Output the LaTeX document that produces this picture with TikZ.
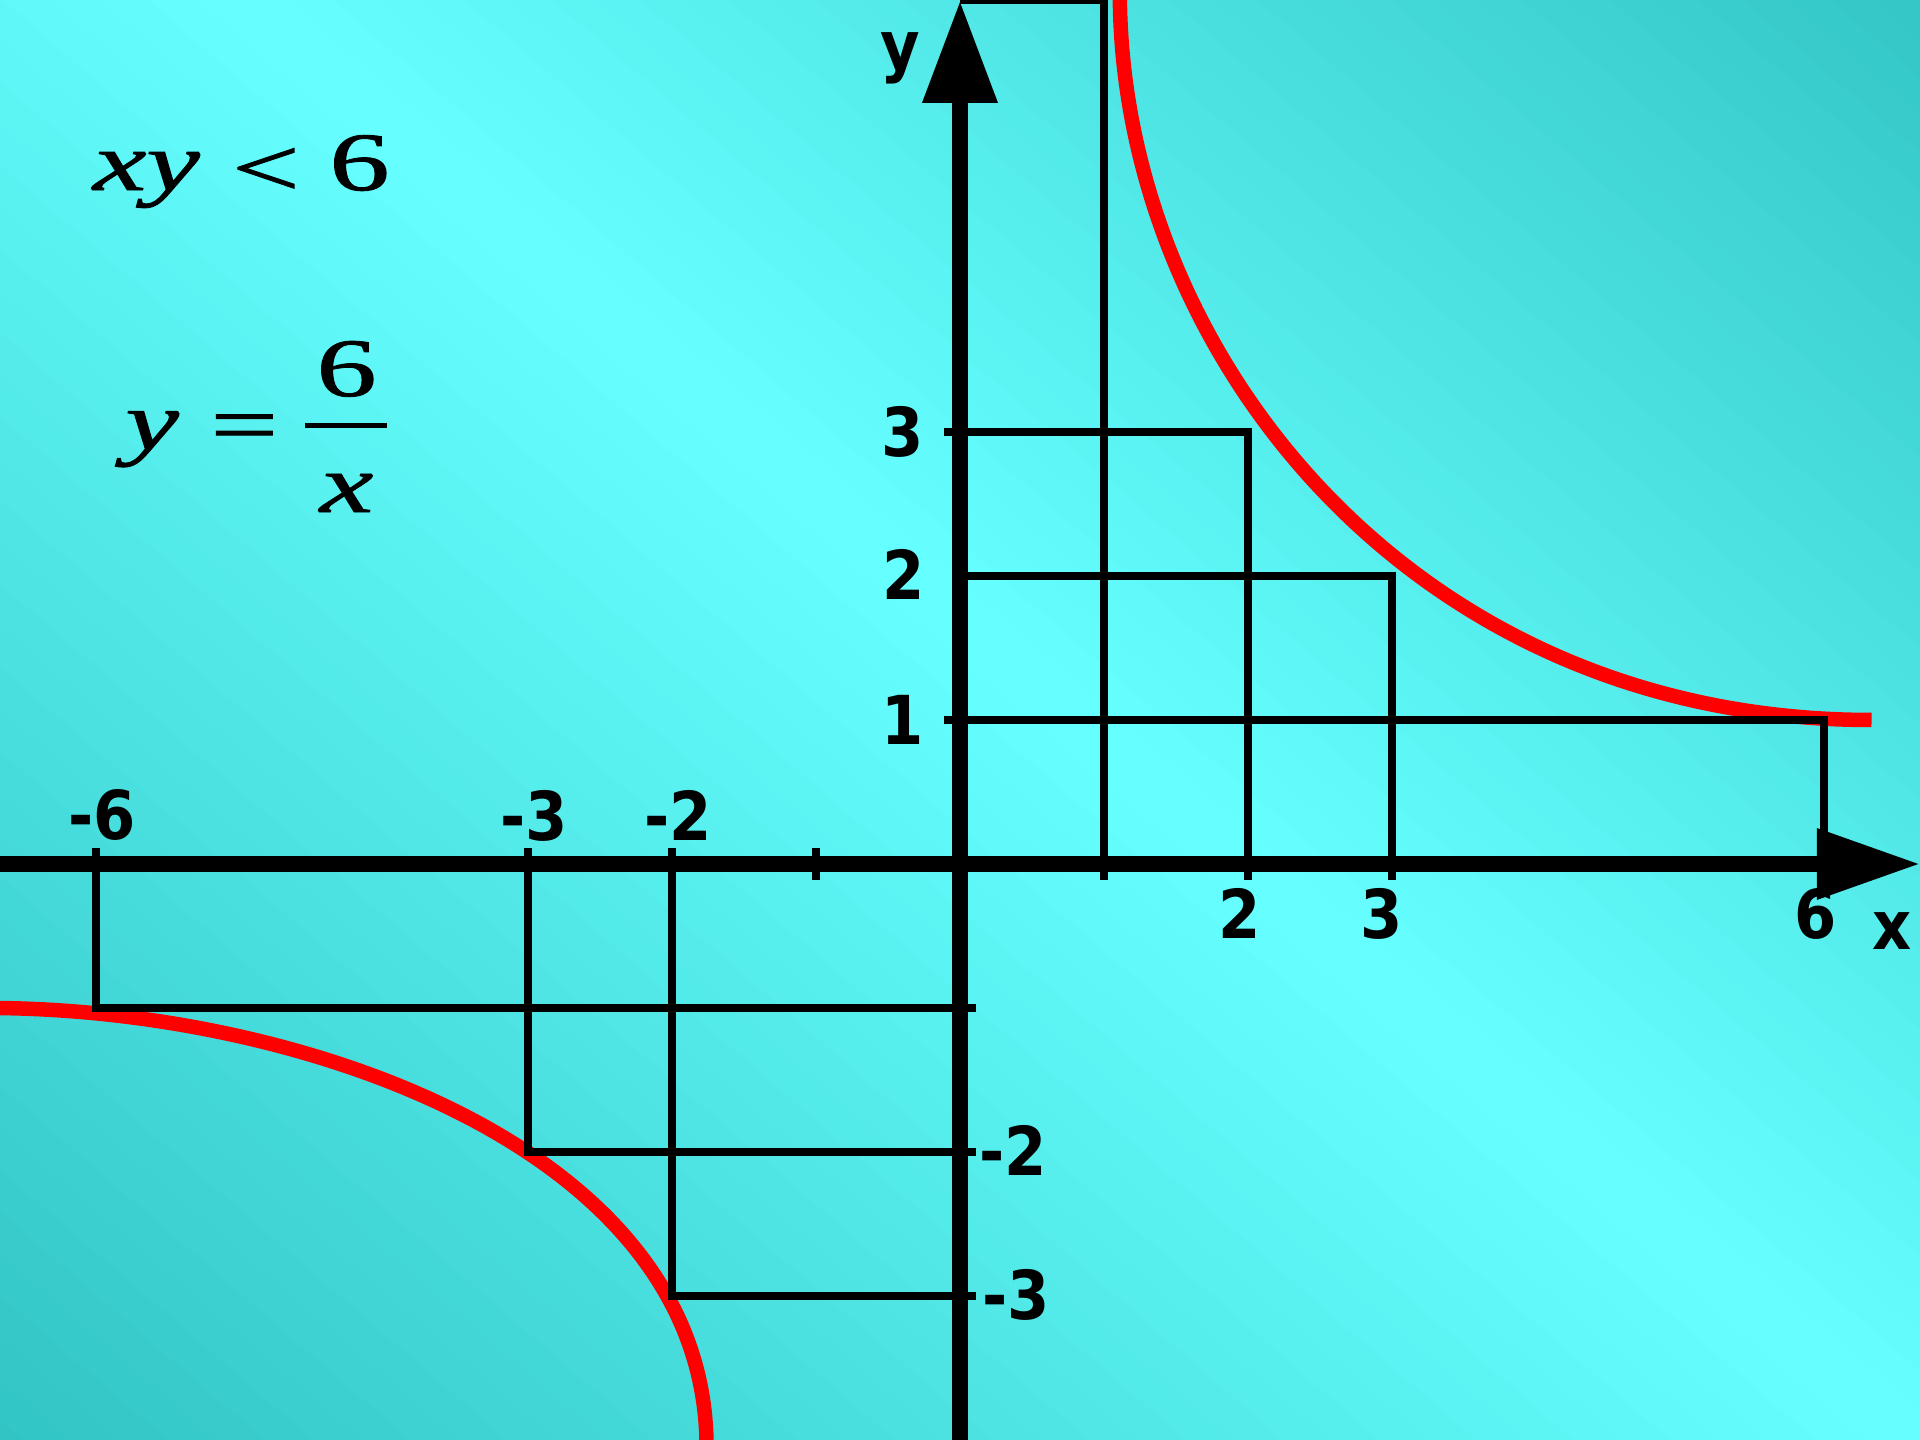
\documentclass[tikz,border=0pt]{standalone}
\usepackage{fontspec}
\newfontfamily\eqfont[FakeBold=1]{Liberation Serif}
\newfontfamily\labfont{DejaVu Sans}
\definecolor{bgbright}{RGB}{102,255,255}
\definecolor{bgdark}{RGB}{50,196,196}
\definecolor{curvered}{RGB}{255,0,0}
\newcommand\axl[1]{\scalebox{0.9}[1]{#1}}
\newcommand\eqs[1]{\scalebox{1.45}[1]{#1}}
\begin{document}
\begin{tikzpicture}[x=1.44cm,y=1.44cm,
  thinline/.style={line width=0.08cm, line join=miter},
  axisline/.style={line width=0.16cm},
  curve/.style={draw=curvered, line width=0.145cm},
  lab/.style={inner sep=0pt, font=\labfont\bfseries\fontsize{19.2}{23}\selectfont},
  eq/.style={inner sep=0pt, font=\eqfont\fontsize{23.6}{28}\selectfont}]
\useasboundingbox (-6.6667,-4) rectangle (6.6667,6);
\begin{scope}
\clip (-6.6667,-4) rectangle (6.6667,6);
% background gradient
\fill[bgbright] (-6.6667,-4) rectangle (6.6667,6);
\begin{scope}[shift={(-4.97,6)}, rotate=-40.8]
\foreach \i in {0,...,39}{
  \pgfmathsetmacro\pc{100*\i/39}
  \fill[bgdark!\pc!bgbright] (-25,{\i*0.2}) rectangle (25,{\i*0.2+0.21});
  \fill[bgdark!\pc!bgbright] (-25,{-\i*0.22}) rectangle (25,{-\i*0.22-0.23});
}
\end{scope}
% red curves
\draw[curve] (1.11,6.05) .. controls (1.11,3.6) and (3.09,1.0) .. (6.33,1.0);
\draw[curve] (-6.75,-1.0) .. controls (-4.61,-1.0) and (-1.76,-1.96) .. (-1.76,-4.05);
% thin lines
\draw[thinline] (1,-0.11) -- (1,6) -- (0,6);
\draw[thinline] (-0.11,3) -- (2,3) -- (2,-0.11);
\draw[thinline] (0,2) -- (3,2) -- (3,-0.11);
\draw[thinline] (-0.11,1) -- (6,1) -- (6,0);
\draw[thinline] (0.11,-1) -- (-6,-1) -- (-6,0.11);
\draw[thinline] (0.11,-2) -- (-3,-2) -- (-3,0.11);
\draw[thinline] (0.11,-3) -- (-2,-3) -- (-2,0.11);
\draw[thinline] (-1,-0.11) -- (-1,0.11);
% axes
\coordinate (xstart) at (-6.6667,0);
\coordinate (xbase) at (5.96,0);
\coordinate (ystart) at (0,-4);
\coordinate (ybase) at (0,5.29);
\draw[axisline] (xstart) -- (xbase);
\fill (5.95,0.25) -- (6.655,0) -- (5.95,-0.25) -- cycle;
\draw[axisline] (ystart) -- (ybase);
\fill (-0.264,5.285) -- (0,5.985) -- (0.264,5.285) -- cycle;
\end{scope}
% axis labels
\node[lab] (ly3) at (-0.40,3.0) {\axl{3}};
\node[lab] (ly2) at (-0.39,2.01) {\axl{2}};
\node[lab] (ly1) at (-0.40,1.0) {\axl{1}};
\node[lab] (lxm6) at (-5.955,0.337) {\axl{-6}};
\node[lab] (lxm3) at (-2.96,0.337) {\axl{-3}};
\node[lab] (lxm2) at (-1.96,0.337) {\axl{-2}};
\node[lab] (lx2) at (1.94,-0.344) {\axl{2}};
\node[lab] (lx3) at (2.93,-0.344) {\axl{3}};
\node[lab] (lx6) at (5.94,-0.344) {\axl{6}};
\node[lab] (lym2) at (0.368,-1.99) {\axl{-2}};
\node[lab] (lym3) at (0.39,-2.99) {\axl{-3}};
\node[lab] (lxx) at (6.476,-0.465) {\axl{x}};
\node[lab,anchor=base] (lyy) at (-0.417,5.52) {\axl{y}};
% equations
\node[eq,anchor=base] (exy) at (-5.65,4.68) {\eqs{\itshape xy}};
\node[eq] (elt) at (-4.82,4.805) {\eqs{<}};
\node[eq,anchor=base] (esix) at (-4.17,4.68) {\eqs{6}};
\node[eq,anchor=base] (ey) at (-5.61,2.88) {\eqs{\itshape y}};
\node[eq] (eeq) at (-4.97,2.99) {\eqs{=}};
\coordinate (barl) at (-4.55,3.045);
\coordinate (barr) at (-3.98,3.045);
\draw[line width=0.05cm] (barl) -- (barr);
\node[eq,anchor=base] (enum) at (-4.26,3.25) {\eqs{6}};
\node[eq,anchor=base] (eden) at (-4.26,2.444) {\eqs{\itshape x}};
\end{tikzpicture}
\end{document}
